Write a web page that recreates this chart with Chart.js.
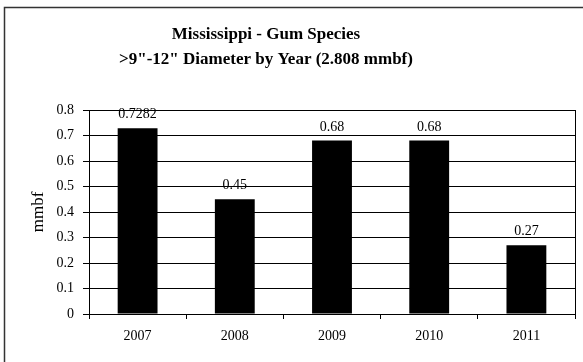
<!DOCTYPE html>
<html>
<head>
<meta charset="utf-8">
<script src="https://cdn.jsdelivr.net/npm/chart.js@4/dist/chart.umd.min.js"></script>
<style>
html,body{margin:0;padding:0;background:#fff;}
#wrap{width:583px;height:362px;position:relative;}
</style>
</head>
<body>
<div id="wrap"><canvas id="c" width="583" height="362"></canvas></div>
<script>
const titleLines = ["Mississippi - Gum Species", ">9\"-12\" Diameter by Year (2.808 mmbf)"];
const categories = ["2007", "2008", "2009", "2010", "2011"];
const values = [0.7282, 0.45, 0.68, 0.68, 0.27];
const valueLabels = ["0.7282", "0.45", "0.68", "0.68", "0.27"];
const yTickLabels = ["0", "0.1", "0.2", "0.3", "0.4", "0.5", "0.6", "0.7", "0.8"];
const yAxisTitle = "mmbf";

const serif = "'Liberation Serif', 'Times New Roman', serif";

const framePlugin = {
  id: 'frame',
  afterDraw(chart) {
    const ctx = chart.ctx;
    const a = chart.chartArea;
    ctx.save();
    // outer border
    ctx.strokeStyle = '#333';
    ctx.lineWidth = 1.5;
    ctx.strokeRect(4.5, 7.5, 620, 420);
    // plot area border
    ctx.strokeStyle = '#000';
    ctx.lineWidth = 1;
    ctx.strokeRect(Math.round(a.left) + 0.5, Math.round(a.top) + 0.5, Math.round(a.right - a.left), Math.round(a.bottom - a.top));
    // title
    ctx.fillStyle = '#000';
    ctx.font = "bold 17px " + serif;
    ctx.textAlign = 'center';
    ctx.textBaseline = 'alphabetic';
    ctx.fillText(titleLines[0], 266, 39);
    ctx.fillText(titleLines[1], 266, 64);
    // value labels
    ctx.font = "14px " + serif;
    const meta = chart.getDatasetMeta(0);
    meta.data.forEach((bar, i) => {
      ctx.fillText(valueLabels[i], bar.x, bar.y - 10);
    });
    ctx.restore();
  }
};

new Chart(document.getElementById('c'), {
  type: 'bar',
  data: {
    labels: categories,
    datasets: [{
      data: values,
      backgroundColor: '#000',
      borderWidth: 0,
      categoryPercentage: 1.0,
      barPercentage: 0.41
    }]
  },
  options: {
    responsive: false,
    animation: false,
    devicePixelRatio: 1,
    layout: { padding: { left: 0, right: 8, top: 110, bottom: 0 } },
    plugins: {
      legend: { display: false },
      title: { display: false },
      tooltip: { enabled: false }
    },
    scales: {
      x: {
        grid: { display: true, drawOnChartArea: false, drawTicks: true, tickLength: 5, color: '#000', offset: true },
        border: { display: true, color: '#000', width: 1 },
        ticks: { color: '#000', font: { family: serif, size: 14 }, padding: 9, maxRotation: 0 },
        afterFit(s) { s.height = 48; }
      },
      y: {
        min: 0, max: 0.8,
        grid: { color: '#000', lineWidth: 1, drawTicks: true, tickLength: 6 },
        border: { display: true, color: '#000', width: 1 },
        ticks: {
          stepSize: 0.1,
          color: '#000',
          font: { family: serif, size: 14 },
          padding: 9,
          callback: (v, i) => yTickLabels[i]
        },
        title: {
          display: true,
          text: yAxisTitle,
          color: '#000',
          font: { family: serif, size: 17 },
          padding: { top: 28, bottom: 0 }
        },
        afterFit(s) { s.width = 89; }
      }
    }
  },
  plugins: [framePlugin]
});
</script>
</body>
</html>
